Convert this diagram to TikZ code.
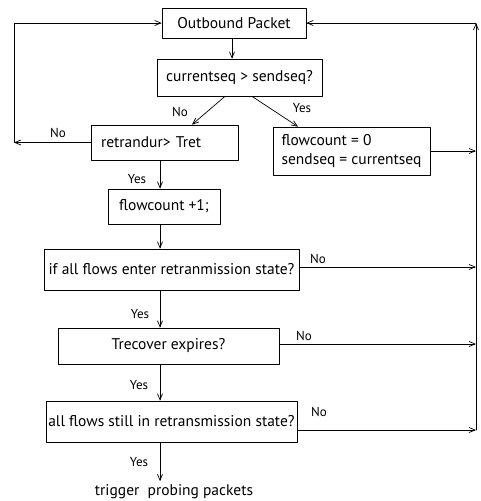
\documentclass[tikz,border=0pt]{standalone}
\usepackage{fontspec}
\setmainfont{PT Sans}
\usetikzlibrary{arrows.meta}
\begin{document}
\begin{tikzpicture}[x=1pt, y=-1pt, font=\fontsize{15.5}{18.5}\selectfont, line join=round, line cap=round,
		>={Straight Barb[length=6pt,width=5pt]}, line width=0.7pt,
		box/.style={draw, inner sep=2pt, align=center},
		lab/.style={font=\fontsize{13}{15}\selectfont, inner sep=1pt}]
	\def\xl{14} \def\xc{160} \def\xr{476} % x of the loops and the spine
	\useasboundingbox (0,0) rectangle (481,501);
	\coordinate (lt) at (\xl,23);
	\coordinate (spine) at (\xc,0);
	\coordinate (rt) at (\xr,23);
	\coordinate (rb) at (\xr,430);
	% boxes
	\node[box, minimum width=144pt, minimum height=30pt] (out) at (234,23) {Outbound Packet};
	\node[box, minimum width=165pt, minimum height=37pt] (cur) at (239.5,77.5) {currentseq > sendseq?};
	\node[box, minimum height=35pt, inner xsep=10pt, text width=127pt, align=left] (ret) at (164.5,142.5) {retrandur> Tret};
	\node[box, minimum width=157pt, minimum height=48pt, align=left] (reset) at (351.5,151) {flowcount = 0\\sendseq = currentseq};
	\node[box, minimum width=112pt, minimum height=35pt] (inc) at (164,206.5) {flowcount +1;};
	\node[box, minimum width=255pt, minimum height=41pt] (all) at (171.5,269.5) {if all flows enter retranmission state?};
	\node[box, minimum width=221pt, minimum height=36pt] (trec) at (168.5,346) {Trecover expires?};
	\node[box, minimum width=251pt, minimum height=41pt] (still) at (171.5,421.5) {all flows still in retransmission state?};
	\node (trig) at (174,492) {trigger\ \ probing packets};
	% labels
	\node[lab] (no1) at (180,112) {No};
	\node[lab] (yes1) at (302,108) {Yes};
	\node[lab] (no2) at (58,133) {No};
	\node[lab] (yes2) at (137,179) {Yes};
	\node[lab] (no3) at (318,259) {No};
	\node[lab] (yes3) at (140,314) {Yes};
	\node[lab] (no4) at (304,336) {No};
	\node[lab] (yes4) at (139,385) {Yes};
	\node[lab] (no5) at (319,412) {No};
	\node[lab] (yes5) at (139,462) {Yes};
	% arrows down the middle
	\draw[->] (out.south -| 232,0) -- (cur.north -| 232,0);
	\draw[->] ([xshift=-14.5pt]cur.south) -- ([xshift=27.5pt]ret.north);
	\draw[->] ([xshift=12.5pt]cur.south) -- ([xshift=-53.5pt]reset.north);
	\draw[->] (ret.south -| spine) -- (inc.north -| spine);
	\draw[->] (inc.south -| spine) -- (all.north -| spine);
	\draw[->] (all.south -| spine) -- (trec.north -| spine);
	\draw[->] (trec.south -| spine) -- (still.north -| spine);
	\draw[->] (still.south -| spine) -- (trig.north -| spine);
	% loop on the left
	\draw[->] (ret.west) -- (ret.west -| lt);
	\draw[->] (ret.west -| lt) -- (lt) -- (out.west |- lt);
	% loop on the right
	\draw[->] (reset.east) -- (reset.east -| rt);
	\draw[->] ([yshift=2.5pt]all.east) -- ([yshift=2.5pt]all.east -| rt);
	\draw[->] ([yshift=2pt]trec.east) -- ([yshift=2pt]trec.east -| rt);
	\draw[->] (still.east |- rb) -- (rb);
	\draw[->] (rb) -- (rt);
	\draw[->] (rt) -- (out.east |- rt);
\end{tikzpicture}
\end{document}
